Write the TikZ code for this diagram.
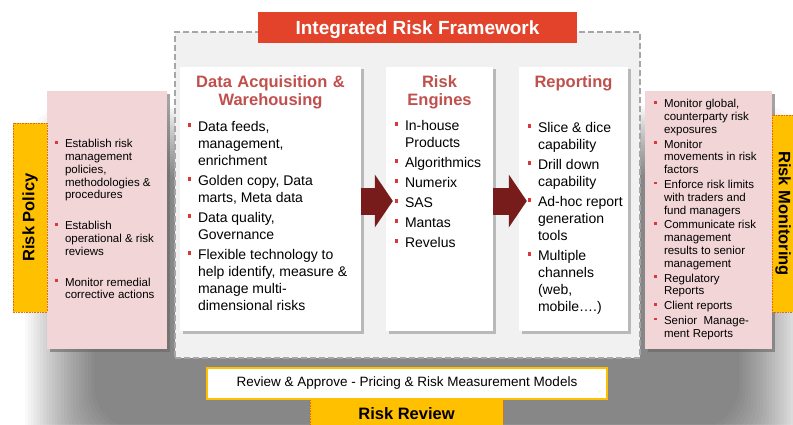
\documentclass[tikz,border=0pt]{standalone}
\usepackage{fontspec}
\setmainfont{Liberation Sans}
\usepackage{xcolor}
\usetikzlibrary{arrows.meta,shadows}
\definecolor{TitleRed}{HTML}{E2432A}
\definecolor{HeadRed}{HTML}{C0504D}
\definecolor{BulletRed}{HTML}{D8383A}
\definecolor{ArrowRed}{HTML}{771B1B}
\definecolor{PanelPink}{HTML}{F2D5D7}
\definecolor{TabGold}{HTML}{FFC000}
\definecolor{TabEdge}{HTML}{E46C0A}
\definecolor{DashGray}{HTML}{A6A6A6}
\definecolor{FrameFill}{HTML}{F1F1F1}

% red square bullets with a hanging indent
\newlength{\itemgap}
\newcommand{\sq}{\textcolor{BulletRed}{\rule[0.36em]{0.24em}{0.24em}}}
\newcommand{\bi}{\par\addvspace{\itemgap}\noindent\hangindent=10pt\hangafter=0\llap{\makebox[10pt][l]{\sq}}}
\newcommand{\blist}[3]{\begin{minipage}[t]{#1}\setlength{\itemgap}{#2}#3\end{minipage}}

\begin{document}
\begin{tikzpicture}[
    x=1pt, y=1pt,
    colbox/.style={fill=white, inner sep=0pt, minimum height=264pt,
      drop shadow={shadow xshift=2.5pt, shadow yshift=-2.5pt, fill=black!45, opacity=.55}},
    panel/.style={fill=PanelPink, inner sep=0pt, minimum height=258pt,
      drop shadow={shadow xshift=3pt, shadow yshift=-3pt, fill=black!60, opacity=.6}},
    tab/.style={fill=TabGold, draw=TabEdge, densely dotted, line width=.6pt, inner sep=0pt,
      font=\fontsize{16.5}{18}\selectfont\bfseries},
    head/.style={text=HeadRed, font=\fontsize{16.5}{18}\selectfont\bfseries,
      align=center, anchor=base, inner sep=0pt},
    body/.style={font=\fontsize{14}{17}\selectfont, anchor=base west, inner sep=0pt},
    side/.style={font=\fontsize{11.5}{12.8}\selectfont, anchor=base west, inner sep=0pt},
    flow/.style={draw=ArrowRed, line width=27pt,
      -{Triangle[length=18pt, width=53pt, line width=0pt]}}
  ]
  \useasboundingbox (0,0) rectangle (793,424);
  \fill[white] (0,0) rectangle (793,424);

  % soft grey haze under the whole layout
  \foreach \k in {0,...,23}
    \fill[black, opacity=.024, rounded corners=45pt]
      (25+3*\k, -75+3*\k) rectangle (808-3*\k, 318-3*\k);

  % dashed frame and its title
  \node[draw=DashGray, fill=FrameFill, dash pattern=on 6pt off 3pt, line width=1.8pt,
    inner sep=0pt, minimum width=465pt, minimum height=326pt] (frame) at (407.5,229) {};
  \node[fill=TitleRed, text=white, inner sep=0pt, minimum width=319pt, minimum height=31pt,
    text depth=0pt, font=\fontsize{19}{20}\selectfont\bfseries] (title) at (417.5,396.5)
    {Integrated Risk Framework};

  % the three columns
  \node[colbox, minimum width=181pt] (acq) at (270.5,225) {};
  \node[colbox, minimum width=107pt] (eng) at (439.5,225) {};
  \node[colbox, minimum width=109pt] (rep) at (573.5,225) {};

  \draw[flow] ([yshift=-2pt]acq.east) -- ([xshift=7pt,yshift=-2pt]eng.west);
  \draw[flow] ([yshift=-2pt]eng.east) -- ([xshift=8pt,yshift=-2pt]rep.west);

  \node[head, text width=181pt] (acqhead) at ([yshift=-21pt]acq.north)
    {Data Acquisition \&\\Warehousing};
  \node[head, text width=107pt] (enghead) at ([yshift=-21pt]eng.north) {Risk\\Engines};
  \node[head, text width=109pt] (rephead) at ([yshift=-21pt]rep.north) {Reporting};

  \node[body] (acqlist) at ([xshift=8pt,yshift=-65pt]acq.north west) {\blist{175pt}{3pt}{%
    \bi Data feeds,\newline management,\newline enrichment
    \bi Golden copy, Data\newline marts, Meta data
    \bi Data quality,\newline Governance
    \bi Flexible technology to\newline help identify, measure \&\newline manage multi-\newline dimensional risks}};
  \node[body] (englist) at ([xshift=9pt,yshift=-64pt]eng.north west) {\blist{100pt}{3pt}{%
    \bi In-house\newline Products
    \bi Algorithmics
    \bi Numerix
    \bi SAS
    \bi Mantas
    \bi Revelus}};
  \node[body] (replist) at ([xshift=9pt,yshift=-66pt]rep.north west) {\blist{110pt}{3pt}{%
    \bi Slice \& dice\newline capability
    \bi Drill down\newline capability
    \bi Ad-hoc report\newline generation\newline tools
    \bi Multiple\newline channels\newline (web,\newline mobile….)}};

  % policy on the left, monitoring on the right
  \node[panel, minimum width=120pt] (policy) at (107,204) {};
  \node[tab, rotate=90, minimum width=189pt, minimum height=34pt] (policytab)
    at (30,206.5) {Risk Policy};
  \node[side] (policylist) at ([xshift=8pt,yshift=-57pt]policy.north west) {\blist{120pt}{18pt}{%
    \bi Establish risk\newline management\newline policies,\newline methodologies \&\newline procedures
    \bi Establish\newline operational \& risk\newline reviews
    \bi Monitor remedial\newline corrective actions}};

  \node[panel, minimum width=127pt] (monitor) at (708.5,204) {};
  \node[tab, rotate=-90, minimum width=197pt, minimum height=22pt] (monitortab)
    at (783,210.5) {Risk Monitoring};
  \node[side] (monitorlist) at ([xshift=9pt,yshift=-17pt]monitor.north west) {\blist{120pt}{2pt}{%
    \bi Monitor global,\newline counterparty risk\newline exposures
    \bi Monitor\newline movements in risk\newline factors
    \bi Enforce risk limits\newline with traders and\newline fund managers
    \bi Communicate risk\newline management\newline results to senior\newline management
    \bi Regulatory\newline Reports
    \bi Client reports
    \bi Senior\ \ Manage-\newline ment Reports}};

  % review strip at the bottom
  \node[tab, minimum width=193pt, minimum height=40pt] (reviewtab) at (406.5,10) {Risk Review};
  \node[fill=white, draw=TabGold, line width=1.2pt, inner sep=0pt, minimum width=400pt,
    minimum height=31pt, font=\fontsize{13.5}{15}\selectfont] (review) at (407,40.5)
    {Review \& Approve - Pricing \& Risk Measurement Models};
\end{tikzpicture}
\end{document}
